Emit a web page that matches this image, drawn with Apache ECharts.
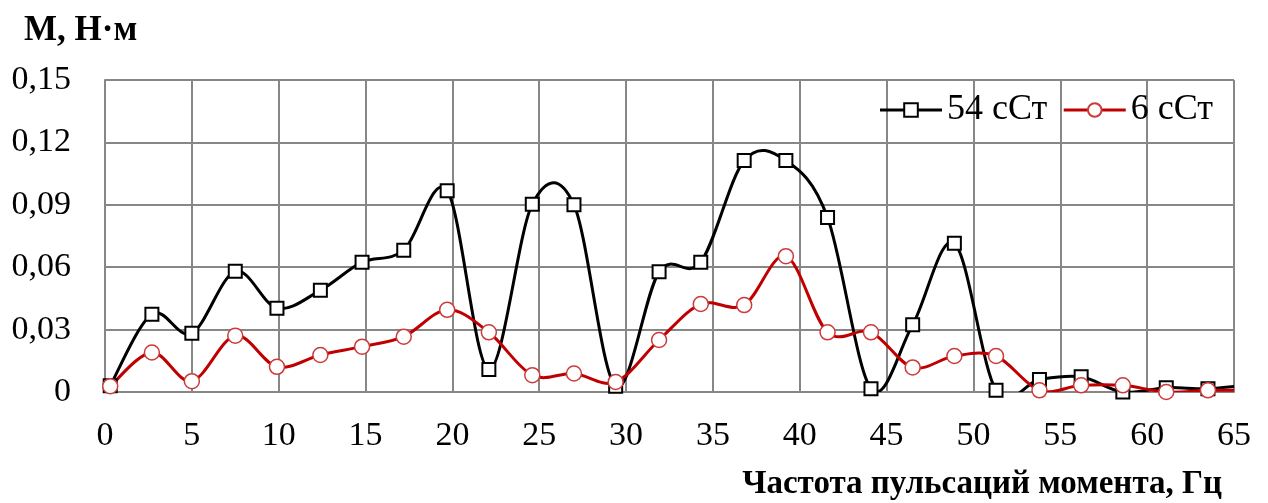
<!DOCTYPE html>
<html>
<head>
<meta charset="utf-8">
<script src="https://cdn.jsdelivr.net/npm/echarts@6/dist/echarts.min.js"></script>
<style>
html,body{margin:0;padding:0;background:#fff;}
#chart{width:1268px;height:503px;}
</style>
</head>
<body>
<div id="chart"></div>
<script>
// Frequency (Hz) of each measured point
const freq = [0.3, 2.7, 5.0, 7.5, 9.9, 12.4, 14.8, 17.2, 19.7, 22.1, 24.6, 27.0, 29.4, 31.9, 34.3, 36.8, 39.2, 41.6, 44.1, 46.5, 48.9, 51.3, 53.8, 56.2, 58.6, 61.1, 63.5, 66.0];
// Torque amplitude, N·m, oil 54 cSt
const m54 = [0.003, 0.0374, 0.0282, 0.058, 0.0403, 0.0489, 0.0624, 0.0682, 0.0968, 0.0108, 0.0903, 0.090, 0.0028, 0.0578, 0.0624, 0.1113, 0.1113, 0.0839, 0.0016, 0.0323, 0.0715, 0.0008, 0.006, 0.0073, 0.0, 0.0021, 0.0016, 0.0035];
// Torque amplitude, N·m, oil 6 cSt
const m6 = [0.0028, 0.019, 0.0052, 0.0271, 0.0121, 0.0178, 0.0218, 0.0266, 0.0395, 0.0287, 0.0081, 0.0089, 0.0048, 0.025, 0.0423, 0.0418, 0.0653, 0.0287, 0.0287, 0.0118, 0.0173, 0.0173, 0.0008, 0.0032, 0.0032, 0.0, 0.0008, 0.0008];
const seriesNames = ['54 сСт', '6 сСт'];
const yTitle = 'М, Н·м';
const xTitle = 'Частота пульсаций момента, Гц';

const serif = '"Liberation Serif", "Times New Roman", serif';
const gridColor = '#878787';
const black = '#000000';
const red = '#c00000';

// Excel-like smoothed line: Catmull-Rom segments through the data, placed with the axis scales
function smoothSegment(xs, ys, color) {
  const n = xs.length;
  return function (params, api) {
    const i = params.dataIndex;
    if (i >= n - 1) return null;
    const P = j => { j = Math.max(0, Math.min(n - 1, j)); return api.coord([xs[j], ys[j]]); };
    const p0 = P(i - 1), p1 = P(i), p2 = P(i + 1), p3 = P(i + 2);
    return {
      type: 'bezierCurve',
      shape: {
        x1: p1[0], y1: p1[1], x2: p2[0], y2: p2[1],
        cpx1: p1[0] + (p2[0] - p0[0]) / 6, cpy1: p1[1] + (p2[1] - p0[1]) / 6,
        cpx2: p2[0] - (p3[0] - p1[0]) / 6, cpy2: p2[1] - (p3[1] - p1[1]) / 6
      },
      style: {stroke: color, lineWidth: 3, fill: 'none', lineCap: 'round'}
    };
  };
}

const chart = echarts.init(document.getElementById('chart'));
chart.setOption({
  animation: false,
  title: {
    text: yTitle, left: 19, top: 8,
    textStyle: {fontFamily: serif, fontWeight: 'bold', fontSize: 35, color: '#000'}
  },
  legend: {
    right: 50, top: 87,
    itemWidth: 62, itemHeight: 17, itemGap: 15,
    textStyle: {fontFamily: serif, fontSize: 36, color: '#000'},
    data: [
      {name: seriesNames[0], lineStyle: {opacity: 1, color: black, width: 3}},
      {name: seriesNames[1], lineStyle: {opacity: 1, color: red, width: 3}}
    ]
  },
  grid: {left: 105, right: 34, top: 80, bottom: 111, containLabel: false},
  xAxis: {
    type: 'value', min: 0, max: 65, interval: 5,
    name: xTitle, nameLocation: 'end', nameGap: -12,
    nameTextStyle: {fontFamily: serif, fontWeight: 'bold', fontSize: 33, color: '#000', align: 'right', verticalAlign: 'top', padding: [76, 0, 0, 0]},
    axisLine: {lineStyle: {color: gridColor, width: 2}},
    axisTick: {show: false},
    axisLabel: {fontFamily: serif, fontSize: 34, color: '#000', margin: 27, showMaxLabel: true, showMinLabel: true},
    splitLine: {show: true, lineStyle: {color: gridColor, width: 2}}
  },
  yAxis: {
    type: 'value', min: 0, max: 0.15, interval: 0.03,
    axisLine: {show: true, lineStyle: {color: gridColor, width: 2}},
    axisTick: {show: false},
    axisLabel: {fontFamily: serif, fontSize: 34, color: '#000', margin: 34,
      formatter: v => v === 0 ? '0' : v.toFixed(2).replace('.', ',')},
    splitLine: {show: true, lineStyle: {color: gridColor, width: 2}}
  },
  series: [
    {
      name: 'curve54', type: 'custom', clip: true,
      data: freq.map((f, i) => [f, m54[i]]),
      encode: {x: 0, y: 1},
      renderItem: smoothSegment(freq, m54, black)
    },
    {
      name: seriesNames[0], type: 'line', clip: true,
      data: freq.map((f, i) => [f, m54[i]]),
      symbol: 'rect', symbolSize: 13, showAllSymbol: true,
      lineStyle: {color: black, width: 3, opacity: 0},
      itemStyle: {color: '#fff', borderColor: black, borderWidth: 2}
    },
    {
      name: 'curve6', type: 'custom', clip: true,
      data: freq.map((f, i) => [f, m6[i]]),
      encode: {x: 0, y: 1},
      renderItem: smoothSegment(freq, m6, red)
    },
    {
      name: seriesNames[1], type: 'line', clip: true,
      data: freq.map((f, i) => [f, m6[i]]),
      symbol: 'circle', symbolSize: 15, showAllSymbol: true,
      lineStyle: {color: red, width: 3, opacity: 0},
      itemStyle: {color: '#fff', borderColor: '#cc3a3a', borderWidth: 1.5}
    }
  ]
});
</script>
</body>
</html>
